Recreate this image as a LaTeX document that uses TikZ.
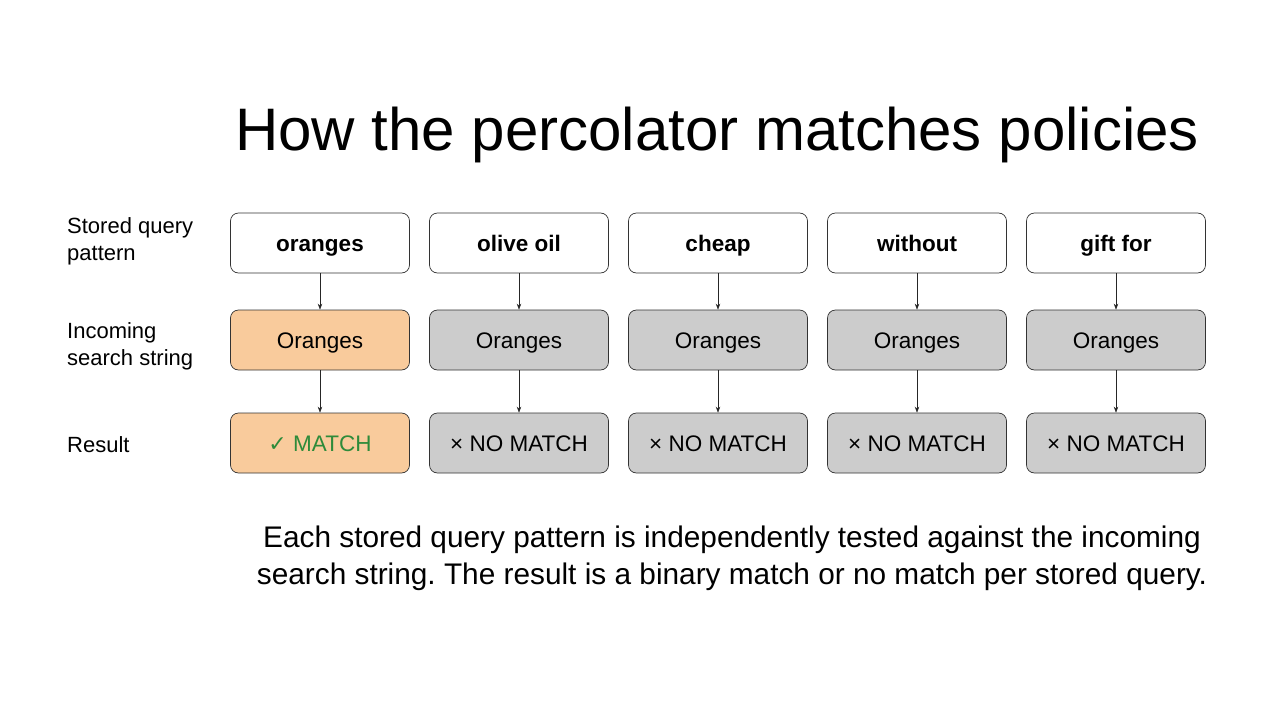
\documentclass[tikz,border=0pt]{standalone}
\usepackage{fontspec}
\setmainfont{Liberation Sans}
\newfontfamily\symfont{DejaVu Sans}
\usetikzlibrary{arrows.meta}
\frenchspacing

\definecolor{peach}{HTML}{F9CB9C}
\definecolor{lgray}{HTML}{CCCCCC}
\definecolor{okgreen}{HTML}{2E8B3A}

\begin{document}
\begin{tikzpicture}[x=1pt,y=-1pt,
    box/.style={rectangle,rounded corners=8pt,draw=black!80,line width=0.7pt,
      minimum width=179pt,minimum height=60pt,inner sep=0pt,
      text height=16pt,text depth=0pt,
      font=\fontsize{22.5}{26}\selectfont},
    hit/.style={box,fill=peach},
    miss/.style={box,fill=lgray},
    rowlabel/.style={anchor=west,align=left,inner sep=0pt,
      font=\fontsize{22}{27}\selectfont},
    flow/.style={-{Stealth[length=6pt,width=4.5pt]},line width=0.6pt,black!85}]

  \useasboundingbox (0,0) rectangle (1280,720);

  \node (title) [anchor=base,font=\fontsize{60}{70}\selectfont] at (717,150)
    {How the percolator matches policies};

  % row labels
  \node (lq) [rowlabel] at (67,241) {Stored query\\pattern};
  \node (ls) [rowlabel] at (67,346) {Incoming\\search string};
  \node (lr) [rowlabel] at (67,445) {Result};

  % stored queries
  \begin{scope}[every node/.style={box,fill=white}]
    \node (q1) at (320,243) {\textbf{oranges}};
    \node (q2) at (519,243) {\textbf{olive oil}};
    \node (q3) at (718,243) {\textbf{cheap}};
    \node (q4) at (917,243) {\textbf{without}};
    \node (q5) at (1116,243) {\textbf{gift for}};
  \end{scope}

  % incoming string
  \node (s1) [hit]  at (320,340) {Oranges};
  \node (s2) [miss] at (519,340) {Oranges};
  \node (s3) [miss] at (718,340) {Oranges};
  \node (s4) [miss] at (917,340) {Oranges};
  \node (s5) [miss] at (1116,340) {Oranges};

  % results
  \node (r1) [hit,text=okgreen] at (320,443) {{\symfont\fontsize{22}{26}\selectfont ✓} MATCH};
  \node (r2) [miss] at (519,443) {× NO MATCH};
  \node (r3) [miss] at (718,443) {× NO MATCH};
  \node (r4) [miss] at (917,443) {× NO MATCH};
  \node (r5) [miss] at (1116,443) {× NO MATCH};

  \foreach \i in {1,...,5} {
    \draw[flow] (q\i) -- (s\i);
    \draw[flow] (s\i) -- (r\i);
  }

  \node (note) [align=center,font=\fontsize{29.8}{37}\selectfont] at (732,558)
    {Each stored query pattern is independently tested against the incoming\\
     search string. The result is a binary match or no match per stored query.};

\end{tikzpicture}
\end{document}
